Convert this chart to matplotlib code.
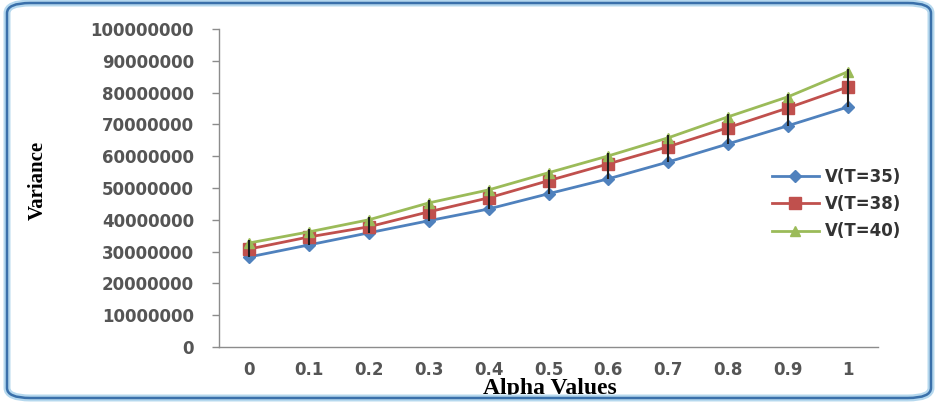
import matplotlib
matplotlib.use("Agg")
import matplotlib.pyplot as plt
from matplotlib.patches import FancyBboxPatch

alpha_labels = ["0", "0.1", "0.2", "0.3", "0.4", "0.5", "0.6", "0.7", "0.8", "0.9", "1"]
v_t35 = [28.3e6, 32.1e6, 35.9e6, 39.7e6, 43.4e6, 48.2e6, 52.9e6, 58.2e6, 63.9e6, 69.6e6, 75.5e6]
v_t38 = [30.8e6, 34.6e6, 37.8e6, 42.5e6, 46.9e6, 52.3e6, 57.6e6, 63.0e6, 69.0e6, 75.2e6, 81.8e6]
v_t40 = [32.7e6, 36.2e6, 40.0e6, 45.3e6, 49.4e6, 54.8e6, 60.1e6, 65.8e6, 72.4e6, 78.7e6, 86.6e6]
series_names = ["V(T=35)", "V(T=38)", "V(T=40)"]
y_ticks = [0, 10000000, 20000000, 30000000, 40000000, 50000000, 60000000,
           70000000, 80000000, 90000000, 100000000]

W, H = 935, 404
fig = plt.figure(figsize=(W / 100, H / 100), dpi=100)
fig.patch.set_facecolor("white")

# rounded frame
outer = FancyBboxPatch((7 / W, 6 / H), (924) / W, (395) / H,
                       boxstyle="round,pad=0,rounding_size=0.025",
                       transform=fig.transFigure, facecolor="none",
                       edgecolor="#b5d8ee", linewidth=5, zorder=0)
fig.patches.append(outer)
frame = FancyBboxPatch((7 / W, 6 / H), (924) / W, (395) / H,
                       boxstyle="round,pad=0,rounding_size=0.025",
                       transform=fig.transFigure, facecolor="none",
                       edgecolor="#3a70aa", linewidth=1.8, zorder=1)
fig.patches.append(frame)

ax = fig.add_axes([219 / W, 1 - 347 / H, (878 - 219) / W, (347 - 29) / H])
x = list(range(len(alpha_labels)))

ax.plot(x, v_t35, color="#4F81BD", lw=2, marker="D", ms=6, label=series_names[0], zorder=3)
ax.plot(x, v_t38, color="#C0504D", lw=2, marker="s", ms=8, label=series_names[1], zorder=3)
ax.plot(x, v_t40, color="#9BBB59", lw=2, marker="^", ms=7, label=series_names[2], zorder=3)

lows = [min(a, b, c) for a, b, c in zip(v_t35, v_t38, v_t40)]
highs = [max(a, b, c) for a, b, c in zip(v_t35, v_t38, v_t40)]
ax.vlines(x, lows, [h + 0.8e6 for h in highs], color="#1e1e1e", lw=1.5, zorder=4)

ax.set_xlim(-0.5, len(alpha_labels) - 0.5)
ax.set_ylim(0, 100000000)
ax.set_xticks(x)
ax.set_xticklabels(alpha_labels)
ax.set_yticks(y_ticks)
ax.set_yticklabels([str(v) for v in y_ticks])

for s in ["top", "right"]:
    ax.spines[s].set_visible(False)
for s in ["left", "bottom"]:
    ax.spines[s].set_color("#8c8c8c")
    ax.spines[s].set_linewidth(1.0)

ax.tick_params(axis="y", length=5, width=1, color="#8c8c8c", pad=13,
               labelsize=12, labelcolor="#555555")
ax.tick_params(axis="x", length=0, pad=10, labelsize=12, labelcolor="#555555")
for t in ax.get_xticklabels() + ax.get_yticklabels():
    t.set_fontweight("bold")

ax.set_xlabel("Alpha Values", family="Liberation Serif", fontweight="bold",
              fontsize=17)
ax.xaxis.set_label_coords((550 - 219) / (878 - 219), -(378 - 347) / (347 - 29))
ax.set_ylabel("Variance", family="Liberation Serif", fontweight="bold", fontsize=15)
ax.yaxis.set_label_coords(-(219 - 48) / (878 - 219), (347 - 180) / (347 - 29))

leg = fig.legend(loc="upper left", bbox_to_anchor=(772 / W, 1 - 168 / H),
                 frameon=False, fontsize=12, handlelength=2.8, handletextpad=0.4,
                 labelspacing=0.55, borderpad=0, borderaxespad=0)
for t in leg.get_texts():
    t.set_color("#333333")
    t.set_fontweight("bold")

fig.savefig("out.png", dpi=100, facecolor="white")
